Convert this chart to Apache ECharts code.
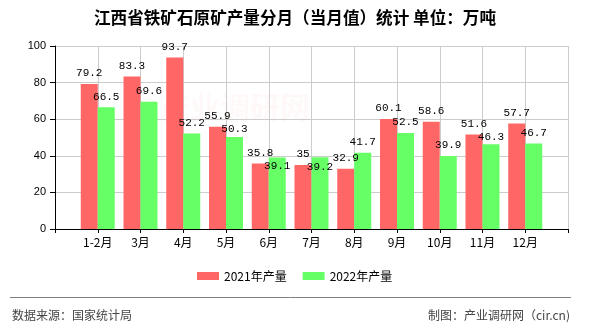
<!DOCTYPE html>
<html>
<head>
<meta charset="utf-8">
<script src="https://cdn.jsdelivr.net/npm/echarts@6/dist/echarts.min.js"></script>
<style>html,body{margin:0;padding:0;background:#fff;}#c{width:590px;height:330px;}</style>
</head>
<body>
<div id="c"></div>
<script>
const categories = ['1-2月','3月','4月','5月','6月','7月','8月','9月','10月','11月','12月'];
const values2021 = [79.2, 83.3, 93.7, 55.9, 35.8, 35, 32.9, 60.1, 58.6, 51.6, 57.7];
const values2022 = [66.5, 69.6, 52.2, 50.3, 39.1, 39.2, 41.7, 52.5, 39.9, 46.3, 46.7];
const yTicks = [0, 20, 40, 60, 80, 100];
const seriesNames = ['2021年产量', '2022年产量'];
const titleText = '江西省铁矿石原矿产量分月（当月值）统计 单位：万吨';
const sourceText = '数据来源：国家统计局';
const makerText = '制图：产业调研网（cir.cn)';

const catPad = [''].concat(categories, ['']);
const redPad = [null].concat(values2021, [null]);
const greenPad = [null].concat(values2022, [null]);

const CJK = "'Noto Sans CJK SC', 'Liberation Sans', sans-serif";
const MONO = "'Liberation Mono', 'DejaVu Sans Mono', monospace";

const chart = echarts.init(document.getElementById('c'), null, {renderer: 'canvas'});

const labelStyle = {
  show: true, position: 'top', distance: 5,
  color: '#000', fontFamily: MONO, fontSize: 11
};

chart.setOption({
  animation: false,
  backgroundColor: '#fff',
  title: {
    text: titleText, left: 'center', top: 4,
    textStyle: {fontFamily: CJK, fontSize: 16.6, fontWeight: 'bold', color: '#000'}
  },
  legend: {
    left: 192, top: 265, itemWidth: 22, itemHeight: 8, itemGap: 16,
    icon: 'rect',
    textStyle: {fontFamily: CJK, fontSize: 12, color: '#000'},
    data: seriesNames
  },
  grid: {left: 55, right: 22, top: 46, bottom: 101, containLabel: false},
  xAxis: {
    type: 'category', data: catPad, boundaryGap: false,
    axisLine: {show: true, lineStyle: {color: '#000', width: 1}},
    axisTick: {show: true, interval: 0, length: 4, lineStyle: {color: '#000'}},
    axisLabel: {interval: 0, margin: 7, color: '#000', fontFamily: CJK, fontSize: 12},
    splitLine: {show: true, interval: 0, lineStyle: {color: '#cccccc', width: 1}}
  },
  yAxis: {
    type: 'value', min: yTicks[0], max: yTicks[yTicks.length - 1], interval: yTicks[1] - yTicks[0],
    axisLine: {show: true, lineStyle: {color: '#000', width: 1}},
    axisTick: {show: true, length: 5, lineStyle: {color: '#000'}},
    axisLabel: {margin: 9, color: '#000', fontFamily: "'Liberation Sans', sans-serif", fontSize: 11},
    splitLine: {show: true, lineStyle: {color: '#cccccc', width: 1}}
  },
  graphic: [
    {type: 'text', z: -10, left: 160, top: 92, silent: true,
     style: {text: '产业调研网', fontFamily: CJK, fontSize: 30, fontWeight: 'bold', fill: 'rgba(255,80,80,0.04)'}},
    {type: 'line', shape: {x1: 10, y1: 297.5, x2: 571, y2: 297.5}, style: {stroke: '#808080', lineWidth: 1}},
    {type: 'text', left: 12, top: 309, style: {text: sourceText, fontFamily: CJK, fontSize: 12, fill: '#444'}},
    {type: 'text', right: 20, top: 309, style: {text: makerText, fontFamily: CJK, fontSize: 12, fill: '#444'}}
  ],
  series: [
    {
      name: seriesNames[0], type: 'bar', data: redPad, barWidth: 17, barGap: '0%',
      itemStyle: {color: '#ff6666'}, label: labelStyle
    },
    {
      name: seriesNames[1], type: 'bar', data: greenPad, barWidth: 17, barGap: '0%',
      itemStyle: {color: '#66ff66'}, label: labelStyle,
      labelLayout: function (p) {
        const i = p.dataIndex;
        const g = greenPad[i], r = redPad[i];
        if (g == null || r == null || !p.rect || !p.labelRect || g <= 0) return {};
        const scale = p.rect.height / g;
        const redTop = p.rect.y + p.rect.height - r * scale;
        const off = p.rect.y - p.labelRect.y;
        const redLabelTop = redTop - off;
        const h = p.labelRect.height;
        const minTop = redLabelTop + 13;
        if (p.labelRect.y > redLabelTop - h && p.labelRect.y < minTop) {
          return {dy: minTop - p.labelRect.y};
        }
        return {};
      }
    }
  ]
});
</script>
</body>
</html>
